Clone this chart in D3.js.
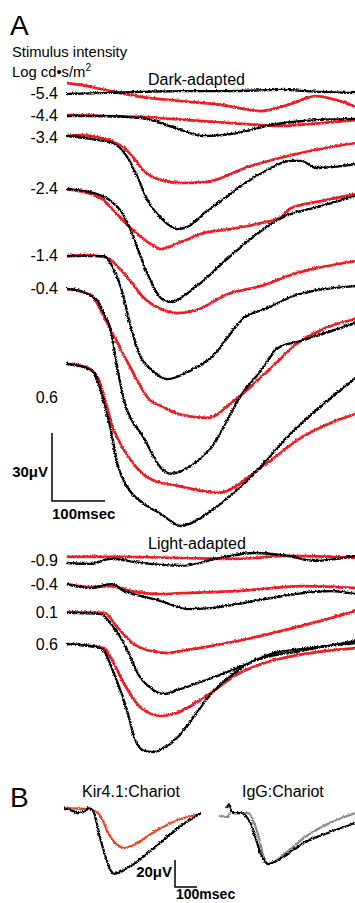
<!DOCTYPE html>
<html>
<head>
<meta charset="utf-8">
<script src="https://cdn.jsdelivr.net/npm/d3@7"></script>
<style>
  body { margin: 0; background: #fff; }
  svg { display: block; font-family: "Liberation Sans", Arial, sans-serif; }
</style>
</head>
<body>
<div id="chart"></div>
<script>
// stimulus intensities, log cd·s/m²
const darkLevels = ["-5.4", "-4.4", "-3.4", "-2.4", "-1.4", "-0.4", "0.6"];
const lightLevels = ["-0.9", "-0.4", "0.1", "0.6"];

// vertical stacking of each row (µV)
const darkOffsets = [0, -9.7, -19.4, -41.9, -71.4, -85.9, -118.9];
const lightOffsets = [-205.7, -215.9, -228.2, -242.3];

// traces: [time (ms), amplitude (µV) from row baseline]
const darkBlack = [
  [[0,0],[64,0.4],[140,0.9],[215,1.3],[309,1.3],[404,1.8],[479,0.9],[545,0.4]],
  [[0,0],[64,0],[140,-0.9],[177,-3.1],[215,-6.2],[258,-8.8],[322,-7.5],[385,-4.0],[447,-2.2],[545,-1.3]],
  [[0,0.9],[45,-0.4],[89,-2.6],[115,-8.8],[134,-17.6],[153,-27.8],[177,-35.2],[209,-40.1],[234,-38.3],[258,-33.5],[296,-26.9],[334,-20.3],[375,-14.5],[422,-10.1],[441,-10.1],[470,-13.2],[545,-11.5]],
  [[0,0],[51,-1.8],[83,-5.3],[102,-9.7],[121,-18.5],[140,-30.4],[158,-40.5],[177,-48.0],[196,-49.8],[240,-43.6],[304,-30.4],[366,-18.5],[404,-12.8],[479,-7.5],[545,-3.1]],
  [[0,0],[70,0],[83,-3.5],[102,-14.1],[121,-31.7],[140,-44.9],[158,-49.8],[189,-54.2],[228,-51.1],[272,-44.9],[334,-27.3],[379,-22.9],[428,-17.6],[545,-13.2]],
  [[0,0],[26,-0.9],[45,-3.1],[58,-5.3],[70,-11.0],[83,-18.5],[96,-36.1],[108,-49.3],[145,-65.6],[177,-78.8],[196,-81.4],[234,-78.0],[272,-70.0],[334,-44.9],[366,-36.1],[398,-26.0],[441,-22.9],[545,-15.0]],
  [[0,0],[40,-2.2],[52,-4.0],[64,-12.0],[83,-29.5],[96,-44.9],[115,-54.6],[145,-61.7],[177,-66.1],[215,-71.4],[243,-69.2],[272,-64.8],[334,-52.9],[428,-29.5],[545,-6.2]]
];
const darkRed = [
  [[0,4.8],[26,4.0],[64,2.2],[140,-1.3],[215,-3.1],[290,-4.8],[366,-7.5],[422,-4.4],[470,-0.9],[507,-2.6],[545,-5.7]],
  [[0,0.4],[64,0],[140,-0.4],[196,-1.3],[309,-3.1],[404,-4.4],[479,-3.1],[545,-1.8]],
  [[0,0.9],[26,1.3],[64,0],[83,-1.3],[108,-4.4],[126,-8.8],[145,-14.5],[172,-18.1],[215,-19.8],[262,-19.4],[341,-12.8],[441,-6.6],[545,-2.2]],
  [[0,0],[64,-4.0],[89,-9.7],[126,-18.5],[158,-24.2],[177,-26.4],[215,-23.3],[258,-19.4],[309,-17.6],[366,-15.0],[404,-12.3],[422,-8.4],[479,-5.3],[545,-2.2]],
  [[0,0],[36,0.4],[70,-0.4],[115,-9.7],[145,-18.5],[177,-23.3],[209,-25.1],[240,-24.2],[304,-16.7],[366,-13.2],[428,-7.9],[545,-2.2]],
  [[0,0],[45,-2.6],[70,-12.3],[115,-32.6],[158,-49.3],[177,-51.5],[209,-55.0],[266,-56.8],[315,-49.3],[375,-37.0],[436,-23.8],[498,-16.3],[545,-13.2]],
  [[0,0],[40,-1.8],[58,-6.2],[89,-29.5],[121,-42.7],[164,-51.5],[209,-53.7],[285,-56.8],[366,-45.8],[441,-32.6],[545,-22.0]]
];
const lightBlack = [
  [[0,-0.9],[45,-1.3],[83,0.9],[140,-0.9],[215,-2.2],[290,1.3],[353,3.5],[417,2.2],[466,0],[545,2.2]],
  [[0,0],[45,-1.8],[83,0],[108,-3.1],[140,-5.3],[177,-7.5],[228,-11.0],[272,-10.6],[322,-8.8],[385,-6.2],[447,-4.0],[498,-3.1],[545,-4.4]],
  [[0,-0.4],[64,-0.9],[83,-5.3],[115,-17.2],[134,-27.3],[158,-33.5],[183,-36.1],[215,-33.9],[258,-30.4],[322,-24.7],[385,-18.5],[460,-15.9],[545,-13.7]],
  [[0,0],[64,-1.8],[89,-13.2],[115,-30.8],[126,-40.5],[145,-47.1],[164,-47.6],[187,-45.4],[215,-39.6],[272,-22.0],[322,-11.9],[353,-7.5],[441,-3.1],[545,1.3]]
];
const lightRed = [
  [[0,1.8],[102,1.8],[215,1.3],[322,0.9],[417,2.2],[545,1.3]],
  [[0,0],[45,-1.3],[83,-0.9],[121,-3.1],[177,-4.4],[215,-4.0],[322,-3.1],[447,-0.9],[545,-1.8]],
  [[0,0],[70,-0.4],[96,-7.0],[126,-14.1],[158,-17.2],[190,-18.1],[215,-17.2],[322,-12.8],[441,-6.2],[545,0.4]],
  [[0,0],[70,-1.8],[83,-6.2],[108,-17.6],[140,-28.2],[177,-31.7],[202,-30.8],[258,-23.8],[322,-13.2],[385,-7.5],[447,-4.4],[545,-1.8]]
];

// panel B
const bGroups = ["Kir4.1:Chariot", "IgG:Chariot"];
const bOffsets = [0, -3];
const kirRed = [[0,0.7],[109,0],[155,-3.0],[214,-21.5],[273,-28.9],[327,-25.9],[395,-18.5],[532,-7.4],[623,-3.7]];
const kirBlack = [[0,0],[41,-1.5],[64,-3.0],[100,-1.5],[109,0.7],[132,-1.5],[168,-23.7],[214,-45.9],[227,-48.1],[291,-43.7],[395,-31.1],[532,-12.6],[623,-3.0]];
const igGray = [[0,-2.2],[41,-3.0],[55,1.5],[68,0],[132,0],[177,-15.6],[205,-33.3],[223,-37.8],[314,-28.1],[386,-18.5],[495,-8.1],[623,0]];
const igBlack = [[36,3.0],[45,6.7],[64,0],[100,0],[145,-8.1],[191,-30.4],[223,-37.8],[314,-30.4],[386,-22.2],[495,-14.8],[623,-7.4]];

const W = 355, H = 903;
const RED = "#ee1c24", ORANGE = "#f0401e", GRAY = "#8a8a8a";

const svg = d3.select("#chart").append("svg")
  .attr("width", W).attr("height", H);

// slight jitter to mimic recording noise
const defs = svg.append("defs");
[["noiseR", 2.6], ["noiseK", 2.0]].forEach(([id, s]) => {
  const f = defs.append("filter").attr("id", id)
    .attr("filterUnits", "userSpaceOnUse")
    .attr("x", 0).attr("y", 0).attr("width", W).attr("height", H);
  f.append("feTurbulence").attr("type", "turbulence")
    .attr("baseFrequency", "0.9 0.6").attr("numOctaves", 1).attr("seed", 4)
    .attr("result", "n");
  f.append("feDisplacementMap").attr("in", "SourceGraphic").attr("in2", "n")
    .attr("scale", s).attr("xChannelSelector", "R").attr("yChannelSelector", "G");
});

// panel A scales
const xA = d3.scaleLinear().domain([0, 545]).range([66, 355]);
const yA = d3.scaleLinear().domain([0, -100]).range([93, 320]);

function traceLine(x, y, off) {
  return d3.line()
    .x(d => x(d[0]))
    .y(d => y(off + d[1]))
    .curve(d3.curveMonotoneX);
}

function drawRows(redSet, blackSet, offsets) {
  const gr = svg.append("g").attr("filter", "url(#noiseR)");
  redSet.forEach((tr, i) => {
    gr.append("path").attr("d", traceLine(xA, yA, offsets[i])(tr))
      .attr("fill", "none").attr("stroke", RED).attr("stroke-width", 2.7)
      .attr("stroke-linejoin", "round");
  });
  const gk = svg.append("g").attr("filter", "url(#noiseK)");
  blackSet.forEach((tr, i) => {
    gk.append("path").attr("d", traceLine(xA, yA, offsets[i])(tr))
      .attr("fill", "none").attr("stroke", "#000").attr("stroke-width", 2.3)
      .attr("stroke-linejoin", "round");
  });
}

drawRows(darkRed, darkBlack, darkOffsets);
drawRows(lightRed, lightBlack, lightOffsets);

// labels
svg.append("text").attr("x", 10).attr("y", 35).attr("font-size", 28).text("A");
svg.append("text").attr("x", 12).attr("y", 57).attr("font-size", 14.8).text("Stimulus intensity");
const logT = svg.append("text").attr("x", 12).attr("y", 77).attr("font-size", 14.8);
logT.append("tspan").text("Log cd\u2022s/m");
logT.append("tspan").attr("font-size", 10).attr("dy", -6).text("2");
svg.append("text").attr("x", 148).attr("y", 85).attr("font-size", 16).text("Dark-adapted");
svg.append("text").attr("x", 148).attr("y", 549).attr("font-size", 16).text("Light-adapted");

svg.append("g").attr("font-size", 16).attr("text-anchor", "end")
  .selectAll("text").data(darkLevels).join("text")
  .attr("x", 58)
  .attr("y", (d, i) => i === darkLevels.length - 1 ? 403 : yA(darkOffsets[i]) + 6)
  .text(d => d);

svg.append("g").attr("font-size", 16).attr("text-anchor", "end")
  .selectAll("text").data(lightLevels).join("text")
  .attr("x", 58)
  .attr("y", (d, i) => yA(lightOffsets[i]) + 6.5)
  .text(d => d);

// scale bar A: 30 µV / 100 ms
const sbx = 52, sby = 501;
svg.append("path")
  .attr("d", `M${sbx},${sby - (yA(-30) - yA(0))}V${sby}H${sbx + xA(100) - xA(0)}`)
  .attr("fill", "none").attr("stroke", "#000").attr("stroke-width", 1.5);
svg.append("text").attr("x", 48).attr("y", 477).attr("text-anchor", "end")
  .attr("font-size", 15).attr("font-weight", "bold").text("30\u03bcV");
svg.append("text").attr("x", 52).attr("y", 519)
  .attr("font-size", 15).attr("font-weight", "bold").text("100msec");

// panel B
const xB = d3.scaleLinear().domain([0, 625]).range([0, 137.5]);
const yB = d3.scaleLinear().domain([0, -20]).range([808, 835]);
const bLeft = [63, 218];

svg.append("text").attr("x", 10).attr("y", 807).attr("font-size", 28).text("B");
svg.append("g").attr("font-size", 16).selectAll("text").data(bGroups).join("text")
  .attr("x", (d, i) => [82, 242][i]).attr("y", 797).text(d => d);

const bSets = [[[kirRed, ORANGE], [kirBlack, "#000"]], [[igGray, GRAY], [igBlack, "#000"]]];
bSets.forEach((set, gi) => {
  const g = svg.append("g").attr("transform", `translate(${bLeft[gi]},0)`);
  set.forEach(([tr, col]) => {
    g.append("path").attr("d", traceLine(xB, yB, bOffsets[gi])(tr))
      .attr("fill", "none").attr("stroke", col).attr("stroke-width", 2.2)
      .attr("stroke-linejoin", "round")
      .attr("filter", col === "#000" ? "url(#noiseK)" : "url(#noiseR)");
  });
});

// scale bar B: 20 µV / 100 ms
const bbx = 175, bby = 887;
svg.append("path")
  .attr("d", `M${bbx},${bby - (yB(-20) - yB(0))}V${bby}H${bbx + xB(100) - xB(0)}`)
  .attr("fill", "none").attr("stroke", "#000").attr("stroke-width", 1.5);
svg.append("text").attr("x", 172).attr("y", 877).attr("text-anchor", "end")
  .attr("font-size", 15).attr("font-weight", "bold").text("20\u03bcV");
svg.append("text").attr("x", 176).attr("y", 899)
  .attr("font-size", 14).attr("font-weight", "bold").text("100msec");
</script>
</body>
</html>
